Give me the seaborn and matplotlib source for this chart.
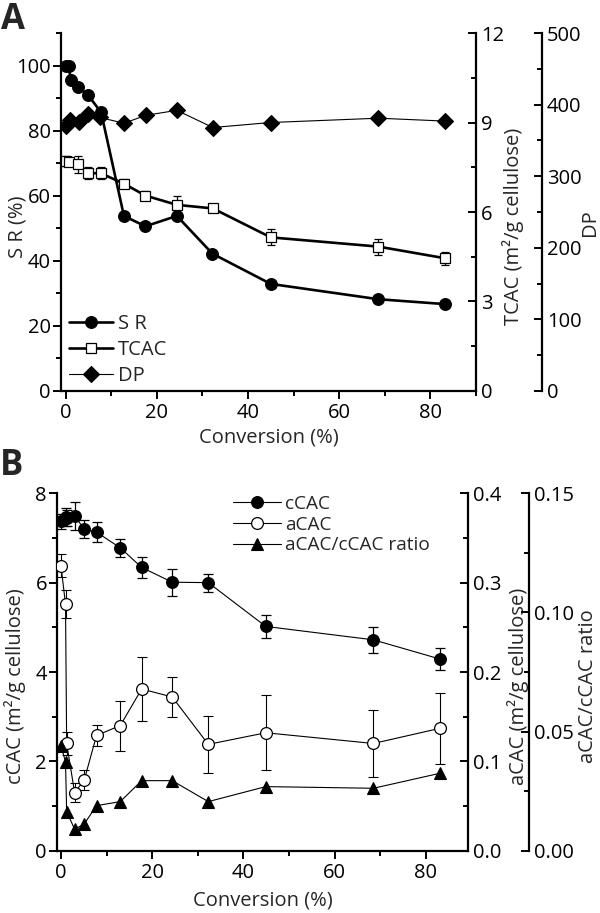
import matplotlib
matplotlib.use('Agg')
import matplotlib.pyplot as plt
import seaborn as sns
from matplotlib.ticker import MultipleLocator, FixedLocator, FormatStrFormatter

# ---------------- data ----------------
# Panel A
conv_sr = [0, 0.7, 1.1, 2.8, 5.0, 7.8, 12.8, 17.5, 24.4, 32.2, 45.0, 68.6, 83.2]
sr = [100, 100, 95.7, 93.4, 90.8, 85.6, 53.8, 50.6, 53.8, 42.2, 32.9, 28.2, 26.7]

conv_tcac = [0, 0.7, 2.8, 5.0, 7.7, 12.8, 17.5, 24.4, 32.3, 45.0, 68.6, 83.2]
tcac = [7.71, 7.69, 7.6, 7.3, 7.3, 6.95, 6.55, 6.24, 6.12, 5.15, 4.84, 4.45]
tcac_err = [0.17, 0.15, 0.28, 0.2, 0.2, 0.15, 0.15, 0.28, 0.12, 0.27, 0.27, 0.22]

conv_dp = [0, 1.0, 2.9, 5.0, 7.5, 12.8, 17.6, 24.4, 32.3, 45.0, 68.6, 83.1]
dp = [370, 378, 376, 387, 382, 374, 385, 392, 368, 375, 381, 377]

# Panel B
conv_b = [0, 1.0, 1.25, 3.0, 5.1, 7.8, 13.0, 17.7, 24.4, 32.3, 44.9, 68.5, 83.1]
ccac = [7.37, 7.47, 7.45, 7.49, 7.20, 7.13, 6.78, 6.34, 6.01, 6.00, 5.02, 4.72, 4.29]
ccac_err = [0.17, 0.2, 0.18, 0.32, 0.2, 0.22, 0.2, 0.23, 0.3, 0.2, 0.25, 0.29, 0.25]
acac = [0.319, 0.276, 0.120, 0.065, 0.079, 0.129, 0.140, 0.181, 0.172, 0.119, 0.132, 0.120, 0.137]
acac_err = [0.013, 0.016, 0.013, 0.011, 0.011, 0.012, 0.028, 0.036, 0.022, 0.032, 0.042, 0.038, 0.040]
ratio = [0.0439, 0.0374, 0.0164, 0.0090, 0.0112, 0.0189, 0.0206, 0.0294, 0.0294, 0.0206, 0.0269, 0.0262, 0.0325]

# ---------------- style ----------------
sns.set_theme(style='ticks')
plt.rcParams['font.family'] = ['Open Sans', 'DejaVu Sans']
FS = 14.5
plt.rcParams['font.size'] = FS

W, H = 600, 913
fig = plt.figure(figsize=(W / 100, H / 100), dpi=100)


def rect(l, t, r, b):
    return [l / W, 1 - b / H, (r - l) / W, (b - t) / H]


def base_style(ax):
    for s in ['top', 'right']:
        ax.spines[s].set_visible(False)
    for s in ['left', 'bottom']:
        ax.spines[s].set_linewidth(1.6)
        ax.spines[s].set_color('black')
    ax.tick_params(axis='both', which='major', direction='out', length=6, width=1.4,
                   color='black', labelsize=FS, pad=1.5, labelcolor='black')
    ax.tick_params(axis='both', which='minor', direction='out', length=3.5, width=1.4, color='black')
    ax.tick_params(axis='x', which='major', pad=2.5)
    ax.set_facecolor('none')


def right_style(ax, outward):
    for s in ['top', 'left', 'bottom']:
        ax.spines[s].set_visible(False)
    ax.spines['right'].set_visible(True)
    ax.spines['right'].set_linewidth(1.6)
    ax.spines['right'].set_color('black')
    if outward:
        ax.spines['right'].set_position(('outward', outward))
    ax.tick_params(axis='y', which='major', direction='in', length=6, width=1.4,
                   color='black', labelsize=FS, pad=3.5, labelcolor='black')
    ax.tick_params(axis='y', which='minor', direction='in', length=3.5, width=1.4, color='black')
    ax.set_facecolor('none')
    ax.grid(False)


def ylab(ax, text, x, y):
    ax.set_ylabel(text, fontsize=FS)
    ax.yaxis.set_label_coords(x, y)
    ax.yaxis.label.set_va('center')
    ax.yaxis.label.set_ha('center')


def xlab(ax, text, y):
    ax.set_xlabel(text, fontsize=FS)
    ax.xaxis.set_label_coords(0.5, y)
    ax.xaxis.label.set_va('center')


# ================= Panel A =================
axA = fig.add_axes(rect(61, 33, 476, 391))
axA2 = axA.twinx()
axA3 = axA.twinx()
base_style(axA)
right_style(axA2, 0)
right_style(axA3, 66 * 0.72)

sns.lineplot(x=conv_sr, y=sr, ax=axA, color='black', marker='o', markersize=8.5,
             linewidth=1.9, mec='black', mfc='black', mew=0.8, label='S R')
axA2.errorbar(conv_tcac, tcac, yerr=tcac_err, fmt='none', ecolor='black',
              elinewidth=0.9, capsize=3.2, capthick=0.9, zorder=1)
sns.lineplot(x=conv_tcac, y=tcac, ax=axA2, color='black', marker='s', markersize=7,
             linewidth=1.9, mec='black', mfc='white', mew=0.9, label='TCAC')
sns.lineplot(x=conv_dp, y=dp, ax=axA3, color='black', marker='D', markersize=8,
             linewidth=0.8, mec='black', mfc='black', mew=0.8, label='DP')

axA.set_xlim(-1, 90)
axA.set_ylim(0, 110)
axA2.set_ylim(0, 12)
axA3.set_ylim(0, 500)

axA.xaxis.set_major_locator(MultipleLocator(20))
axA.xaxis.set_minor_locator(MultipleLocator(10))
axA.yaxis.set_major_locator(FixedLocator([0, 20, 40, 60, 80, 100]))
axA.yaxis.set_minor_locator(FixedLocator([10, 30, 50, 70, 90, 110]))
axA2.yaxis.set_major_locator(MultipleLocator(3))
axA2.yaxis.set_minor_locator(MultipleLocator(1.5))
axA3.yaxis.set_major_locator(MultipleLocator(100))
axA3.yaxis.set_minor_locator(MultipleLocator(50))

xlab(axA, 'Conversion (%)', -0.13)
ylab(axA, 'S R (%)', -0.105, 0.46)
ylab(axA2, 'TCAC (m²/g cellulose)', 1.089, 0.46)
ylab(axA3, 'DP', 1.275, 0.47)

for a in (axA, axA2, axA3):
    lg = a.get_legend()
    if lg is not None:
        lg.remove()

hA = [axA.lines[-1], axA2.lines[-1], axA3.lines[-1]]
legA = axA3.legend(hA, ['S R', 'TCAC', 'DP'], loc='center left',
                   bbox_to_anchor=(69 / W, 1 - 350 / H), bbox_transform=fig.transFigure,
                   frameon=False, fontsize=FS, handlelength=2.2, handletextpad=0.25,
                   labelspacing=0.3, borderpad=0, borderaxespad=0)

# ================= Panel B =================
axB = fig.add_axes(rect(57.3, 493.3, 468.3, 850.7))
axB2 = axB.twinx()
axB3 = axB.twinx()
base_style(axB)
right_style(axB2, 0)
right_style(axB3, 61 * 0.72)

axB.errorbar(conv_b, ccac, yerr=ccac_err, fmt='none', ecolor='black',
             elinewidth=0.9, capsize=3.8, capthick=0.9, zorder=1)
sns.lineplot(x=conv_b, y=ccac, ax=axB, color='black', marker='o', markersize=8.5,
             linewidth=0.8, mec='black', mfc='black', mew=0.8, label='cCAC')
axB2.errorbar(conv_b, acac, yerr=acac_err, fmt='none', ecolor='black',
              elinewidth=0.8, capsize=3.8, capthick=0.8, zorder=1)
sns.lineplot(x=conv_b, y=acac, ax=axB2, color='black', marker='o', markersize=8.5,
             linewidth=0.8, mec='black', mfc='white', mew=0.9, label='aCAC')
sns.lineplot(x=conv_b, y=ratio, ax=axB3, color='black', marker='^', markersize=9,
             linewidth=0.8, mec='black', mfc='black', mew=0.8, label='aCAC/cCAC ratio')

axB.set_xlim(-0.8, 89.3)
axB.set_ylim(0, 8)
axB2.set_ylim(0, 0.4)
axB3.set_ylim(0, 0.15)

axB.xaxis.set_major_locator(MultipleLocator(20))
axB.xaxis.set_minor_locator(MultipleLocator(10))
axB.yaxis.set_major_locator(MultipleLocator(2))
axB.yaxis.set_minor_locator(MultipleLocator(1))
axB2.yaxis.set_major_locator(MultipleLocator(0.1))
axB2.yaxis.set_minor_locator(MultipleLocator(0.05))
axB2.yaxis.set_major_formatter(FormatStrFormatter('%.1f'))
axB3.yaxis.set_major_locator(MultipleLocator(0.05))
axB3.yaxis.set_minor_locator(MultipleLocator(0.025))
axB3.yaxis.set_major_formatter(FormatStrFormatter('%.2f'))

xlab(axB, 'Conversion (%)', -0.14)
ylab(axB, 'cCAC (m²/g cellulose)', -0.103, 0.46)
ylab(axB2, 'aCAC (m²/g cellulose)', 1.121, 0.46)
ylab(axB3, 'aCAC/cCAC ratio', 1.291, 0.46)

for a in (axB, axB2, axB3):
    lg = a.get_legend()
    if lg is not None:
        lg.remove()

hB = [axB.lines[-1], axB2.lines[-1], axB3.lines[-1]]
legB = axB3.legend(hB, ['cCAC', 'aCAC', 'aCAC/cCAC ratio'], loc='upper left',
                   bbox_to_anchor=(233 / W, 1 - 495 / H), bbox_transform=fig.transFigure,
                   frameon=False, fontsize=FS - 0.8, handlelength=2.5, handletextpad=0.25,
                   labelspacing=0.14, borderpad=0, borderaxespad=0)

# panel letters
fig.text(1 / W, 1 - 20 / H, 'A', fontsize=25, fontweight='bold', va='center', ha='left')
fig.text(0 / W, 1 - 466 / H, 'B', fontsize=25, fontweight='bold', va='center', ha='left')

fig.savefig('out.png', dpi=100)
